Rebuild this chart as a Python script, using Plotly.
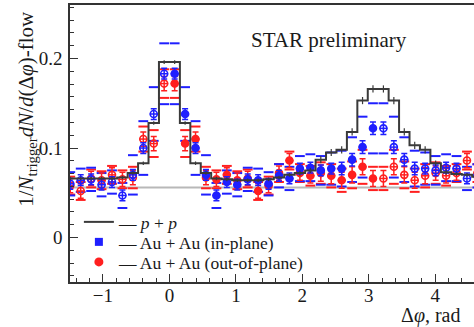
import math
import plotly.graph_objects as go

# ---------------- data ----------------
dphi = [-1.492, -1.335, -1.178, -1.021, -0.864, -0.707, -0.550, -0.393, -0.236, -0.079,
        0.079, 0.236, 0.393, 0.550, 0.707, 0.864, 1.021, 1.178, 1.335, 1.492,
        1.649, 1.806, 1.963, 2.121, 2.278, 2.435, 2.592, 2.749, 2.906, 3.063,
        3.220, 3.377, 3.534, 3.691, 3.848, 4.006, 4.163, 4.320, 4.477, 4.634]

pp_yield = [0.066, 0.066, 0.066, 0.066, 0.066, 0.067, 0.072, 0.083, 0.128, 0.196,
            0.196, 0.128, 0.083, 0.072, 0.066, 0.065, 0.064, 0.064, 0.064, 0.065,
            0.067, 0.070, 0.072, 0.075, 0.087, 0.095, 0.098, 0.118, 0.153, 0.166,
            0.166, 0.153, 0.118, 0.103, 0.098, 0.083, 0.073, 0.071, 0.070, 0.068]
pp_err = [0.002, 0.002, 0.002, 0.002, 0.002, 0.002, 0.002, 0.002, 0.002, 0.002,
          0.002, 0.002, 0.002, 0.002, 0.002, 0.002, 0.002, 0.002, 0.002, 0.002,
          0.002, 0.002, 0.003, 0.003, 0.004, 0.004, 0.004, 0.004, 0.004, 0.004,
          0.004, 0.004, 0.004, 0.004, 0.004, 0.003, 0.003, 0.002, 0.002, 0.002]

inplane = [0.060, 0.064, 0.065, 0.059, 0.062, 0.047, 0.070, 0.100, 0.138, 0.183,
           0.183, 0.138, 0.100, 0.070, 0.047, 0.062, 0.059, 0.065, 0.064, 0.060,
           0.069, 0.066, 0.077, 0.078, 0.075, 0.077, 0.077, 0.087, 0.101, 0.122,
           0.122, 0.101, 0.087, 0.077, 0.077, 0.075, 0.078, 0.077, 0.066, 0.069]
inplane_stat = [0.006, 0.006, 0.006, 0.006, 0.006, 0.006, 0.006, 0.006, 0.006, 0.006,
                0.006, 0.006, 0.006, 0.006, 0.006, 0.006, 0.006, 0.006, 0.006, 0.006,
                0.006, 0.006, 0.006, 0.006, 0.006, 0.006, 0.007, 0.007, 0.007, 0.007,
                0.007, 0.007, 0.007, 0.007, 0.006, 0.006, 0.006, 0.006, 0.006, 0.006]
inplane_sys = [0.013, 0.013, 0.013, 0.013, 0.013, 0.014, 0.022, 0.030, 0.030, 0.034,
               0.034, 0.030, 0.030, 0.022, 0.014, 0.013, 0.013, 0.013, 0.013, 0.013,
               0.013, 0.013, 0.014, 0.015, 0.016, 0.018, 0.020, 0.025, 0.034, 0.028,
               0.028, 0.034, 0.025, 0.020, 0.018, 0.016, 0.015, 0.014, 0.013, 0.013]

outplane = [0.058, 0.052, 0.066, 0.064, 0.070, 0.065, 0.067, 0.110, 0.105, 0.172,
            0.172, 0.105, 0.110, 0.067, 0.065, 0.070, 0.064, 0.066, 0.052, 0.058,
            0.072, 0.086, 0.072, 0.069, 0.072, 0.069, 0.064, 0.070, 0.079, 0.066,
            0.066, 0.079, 0.070, 0.064, 0.069, 0.072, 0.069, 0.072, 0.086, 0.072]
outplane_stat = [0.008, 0.008, 0.008, 0.008, 0.008, 0.008, 0.008, 0.008, 0.008, 0.008,
                 0.008, 0.008, 0.008, 0.008, 0.008, 0.008, 0.008, 0.008, 0.008, 0.008,
                 0.008, 0.008, 0.008, 0.008, 0.009, 0.009, 0.009, 0.009, 0.009, 0.009,
                 0.009, 0.009, 0.009, 0.009, 0.009, 0.008, 0.008, 0.008, 0.008, 0.008]
outplane_sys = [0.010, 0.010, 0.010, 0.010, 0.010, 0.010, 0.012, 0.014, 0.015, 0.016,
                0.016, 0.015, 0.014, 0.012, 0.010, 0.010, 0.010, 0.010, 0.010, 0.010,
                0.010, 0.010, 0.010, 0.011, 0.012, 0.013, 0.013, 0.015, 0.019, 0.013,
                0.013, 0.019, 0.015, 0.013, 0.013, 0.012, 0.011, 0.010, 0.010, 0.010]

zyam_level = 0.056

x_ticks = [-1, 0, 1, 2, 3, 4]
y_ticks = [0, 0.1, 0.2]
y_tick_labels = ["0", "0.1", "0.2"]

legend_names = ["— <i>p</i> + <i>p</i>", "— Au + Au (in-plane)", "— Au + Au (out-of-plane)"]

# ---------------- styling ----------------
X_RANGE = [-1.496, 4.583]
Y_RANGE = [-0.0497, 0.2598]
BLUE = "#1f1fff"
RED = "#ff1f1f"
PP = "#3a3a3a"
AX = "#333333"
TXT = "#1a1a1a"
FONT = "Liberation Serif"

# open symbols are reflected points, filled are measured (0 < dphi < pi)
symbols = ["circle" if 0 < x < math.pi else "circle-open" for x in dphi]

fig = go.Figure()

fig.add_trace(go.Scatter(x=X_RANGE, y=[zyam_level, zyam_level], mode="lines",
                         line=dict(color="#b8b8b8", width=2),
                         showlegend=False, hoverinfo="skip"))


def sys_trace(vals, sys, color):
    up = [v + s for v, s in zip(vals, sys)]
    dn = [v - s for v, s in zip(vals, sys)]
    return go.Scatter(x=dphi + dphi, y=up + dn, mode="markers",
                      marker=dict(symbol="line-ew", size=7, color=color,
                                  line=dict(color=color, width=2)),
                      showlegend=False, hoverinfo="skip")


def point_trace(vals, stat, color):
    return go.Scatter(x=dphi, y=vals, mode="markers",
                      marker=dict(symbol=symbols, size=7, color=color,
                                  line=dict(color=color, width=1.6)),
                      error_y=dict(type="data", array=stat, color=color,
                                   thickness=1.5, width=3),
                      error_x=dict(type="constant", value=0.06, color=color,
                                   thickness=1.5, width=0),
                      showlegend=False)


fig.add_trace(sys_trace(outplane, outplane_sys, RED))
fig.add_trace(sys_trace(inplane, inplane_sys, BLUE))
fig.add_trace(point_trace(outplane, outplane_stat, RED))
fig.add_trace(point_trace(inplane, inplane_stat, BLUE))

fig.add_trace(go.Scatter(x=dphi, y=pp_yield, mode="lines",
                         line=dict(color=PP, width=2, shape="hvh"),
                         error_y=dict(type="data", array=pp_err, color=PP,
                                      thickness=1.2, width=0),
                         name=legend_names[0], legend="legend"))

fig.add_trace(go.Scatter(x=[None], y=[None], mode="markers",
                         marker=dict(symbol="square", size=8, color=BLUE),
                         name=legend_names[1], legend="legend2"))
fig.add_trace(go.Scatter(x=[None], y=[None], mode="markers",
                         marker=dict(symbol="circle", size=9, color=RED),
                         name=legend_names[2], legend="legend3"))

leg_common = dict(x=0.022, xanchor="left", yanchor="middle",
                  bgcolor="rgba(0,0,0,0)", borderwidth=0,
                  font=dict(family=FONT, size=17.5, color=TXT))

fig.update_layout(
    width=474, height=327,
    margin=dict(l=70, r=0, t=5, b=45),
    paper_bgcolor="white", plot_bgcolor="white",
    font=dict(family=FONT, size=19, color=TXT),
    legend=dict(y=0.2166, **leg_common),
    legend2=dict(y=0.1444, **leg_common),
    legend3=dict(y=0.0722, **leg_common),
    xaxis=dict(range=X_RANGE, tickmode="array", tickvals=x_ticks,
               ticks="inside", ticklen=8, tickwidth=1.2, tickcolor=AX,
               ticklabelstandoff=-5,
               showline=True, linecolor=AX, linewidth=1.5, mirror=True,
               showgrid=False, zeroline=False,
               tickfont=dict(family=FONT, size=19, color=TXT),
               minor=dict(tickmode="linear", tick0=0, dtick=0.2, ticks="inside",
                          ticklen=4, tickwidth=1.2, tickcolor=AX, showgrid=False)),
    yaxis=dict(range=Y_RANGE, tickmode="array", tickvals=y_ticks, ticktext=y_tick_labels,
               ticks="inside", ticklen=8, tickwidth=1.2, tickcolor=AX,
               ticklabelstandoff=2,
               showline=True, linecolor=AX, linewidth=1.5, mirror=False,
               showgrid=False, zeroline=False,
               tickfont=dict(family=FONT, size=19, color=TXT),
               minor=dict(tickmode="linear", tick0=0, dtick=0.1 / 7, ticks="inside",
                          ticklen=4, tickwidth=1.2, tickcolor=AX, showgrid=False)),
)

fig.add_annotation(text="STAR preliminary", xref="paper", yref="paper",
                   x=0.642, y=0.874, xanchor="center", yanchor="middle",
                   showarrow=False, font=dict(family=FONT, size=21, color=TXT))
fig.add_annotation(text="1/<i>N</i><sub>trigger</sub><i>dN</i>/<i>d</i>(Δ<i>φ</i>)-flow",
                   xref="paper", yref="paper", x=-0.1066, y=0.625,
                   xanchor="center", yanchor="middle", textangle=-90,
                   showarrow=False, font=dict(family=FONT, size=21, color=TXT))
fig.add_annotation(text="Δ<i>φ</i>, rad", xref="paper", yref="paper",
                   x=0.973, y=-0.1227, xanchor="right", yanchor="middle",
                   showarrow=False, font=dict(family=FONT, size=20, color=TXT))

fig.write_html("out.html", config={"displayModeBar": False},
               post_script="document.body.style.margin='0px';")
